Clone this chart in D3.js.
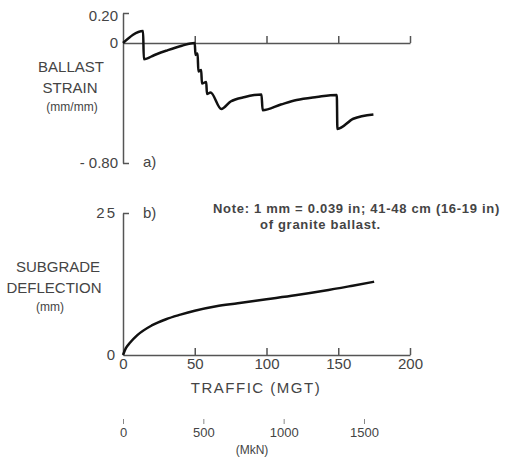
<!DOCTYPE html>
<html>
<head>
<meta charset="utf-8">
<script src="https://cdn.jsdelivr.net/npm/d3@7"></script>
<style>
  body { margin: 0; background: #fff; }
  svg text { font-family: "Liberation Sans", Arial, sans-serif; fill: #444; }
</style>
</head>
<body>
<script>
// a) ballast strain vs traffic (MGT)
const strainX = [0, 14, 14.5, 22, 30, 41, 50, 50.5, 52, 52.5, 54.5, 55, 58, 58.5, 61, 68.5, 75, 85, 96.5, 97.3, 110, 121, 135, 149, 149.4, 160.5, 174.5];
const strainY = [0, 0.08, -0.108, -0.08, -0.052, -0.018, 0, -0.08, -0.07, -0.19, -0.18, -0.27, -0.26, -0.34, -0.33, -0.44, -0.39, -0.36, -0.344, -0.448, -0.41, -0.38, -0.36, -0.346, -0.573, -0.505, -0.476];

// b) subgrade deflection vs traffic (MGT)
const deflX = [0, 2, 5, 10, 20, 30, 40, 50, 65, 80, 100, 120, 140, 160, 175];
const deflY = [0, 1.2, 2.2, 3.5, 5.2, 6.3, 7.1, 7.8, 8.6, 9.1, 9.8, 10.5, 11.3, 12.2, 12.9];

const strainTicks = [0.2, 0, -0.8];
const strainTickLabels = ["0.20", "0", "- 0.80"];
const mgtTicks = [0, 50, 100, 150, 200];
const deflTicks = [25, 0];
const mknTicks = [0, 500, 1000, 1500];

const svg = d3.select("body").append("svg")
  .attr("width", 508)
  .attr("height", 459);

// Scales
const x = d3.scaleLinear().domain([0, 200]).range([123, 410]);
const yTop = d3.scaleLinear().domain([-0.8, 0.2]).range([163, 13]);
const yBot = d3.scaleLinear().domain([0, 25]).range([355, 213]);
const xMkN = d3.scaleLinear().domain([0, 1500]).range([123, 364]);

function styleAxis(g, size) {
  g.selectAll("path, line").attr("stroke", "#555").attr("stroke-width", 1.5);
  g.selectAll("text").style("font-size", size + "px").attr("fill", "#555");
}

// ---- top panel ----
svg.append("g")
  .attr("transform", `translate(0, ${yTop(0)})`)
  .call(d3.axisBottom(x).tickValues([50, 100, 150, 200]).tickSizeInner(-7).tickSizeOuter(0).tickFormat(""))
  .call(g => styleAxis(g, 15));

svg.append("g")
  .attr("transform", "translate(123, 0)")
  .call(d3.axisLeft(yTop).tickValues(strainTicks).tickSizeInner(-6).tickSizeOuter(0).tickPadding(5)
    .tickFormat((d, i) => strainTickLabels[i]))
  .call(g => styleAxis(g, 15))
  .call(g => g.selectAll(".tick").filter(d => d === 0.2).select("text").attr("dy", "0.5em"))
  .call(g => g.selectAll(".tick").filter(d => d === 0).select("line").remove());

const strainLine = d3.line()
  .x((d, i) => x(strainX[i]))
  .y(d => yTop(d))
  .curve(d3.curveMonotoneX);

svg.append("path")
  .datum(strainY)
  .attr("d", strainLine)
  .attr("fill", "none")
  .attr("stroke", "#111")
  .attr("stroke-width", 2.5)
  .attr("stroke-linejoin", "round");

const topLabel = svg.append("g").attr("text-anchor", "middle");
topLabel.append("text").attr("x", 71).attr("y", 72).style("font-size", "15px").text("BALLAST");
topLabel.append("text").attr("x", 70).attr("y", 93).style("font-size", "15px").text("STRAIN");
topLabel.append("text").attr("x", 72).attr("y", 111).style("font-size", "12px").text("(mm/mm)");
svg.append("text").attr("x", 143).attr("y", 167).style("font-size", "15px").text("a)");

// ---- bottom panel ----
svg.append("g")
  .attr("transform", `translate(0, ${yBot(0)})`)
  .call(d3.axisBottom(x).tickValues(mgtTicks).tickSizeInner(-7).tickSizeOuter(0).tickPadding(3))
  .call(g => styleAxis(g, 15))
  .call(g => g.selectAll(".tick").filter(d => d === 0).select("line").remove());

svg.append("g")
  .attr("transform", "translate(123, 0)")
  .call(d3.axisLeft(yBot).tickValues(deflTicks).tickSizeInner(-6).tickSizeOuter(0).tickPadding(6))
  .call(g => styleAxis(g, 15))
  .call(g => g.selectAll("text").attr("letter-spacing", "2px"))
  .call(g => g.selectAll(".tick").filter(d => d === 0).select("line").remove());

const deflLine = d3.line()
  .x((d, i) => x(deflX[i]))
  .y(d => yBot(d))
  .curve(d3.curveMonotoneX);

svg.append("path")
  .datum(deflY)
  .attr("d", deflLine)
  .attr("fill", "none")
  .attr("stroke", "#111")
  .attr("stroke-width", 2.5);

const botLabel = svg.append("g").attr("text-anchor", "middle");
botLabel.append("text").attr("x", 58).attr("y", 272).style("font-size", "15px").text("SUBGRADE");
botLabel.append("text").attr("x", 54).attr("y", 293).style("font-size", "15px").text("DEFLECTION");
botLabel.append("text").attr("x", 50).attr("y", 311).style("font-size", "12px").text("(mm)");
svg.append("text").attr("x", 143).attr("y", 218).style("font-size", "15px").text("b)");

svg.append("text").attr("x", 256).attr("y", 393).attr("text-anchor", "middle")
  .style("font-size", "15px").attr("letter-spacing", "1.5px").text("TRAFFIC (MGT)");

// note
const note = svg.append("g").style("font-weight", "bold").style("font-size", "13px").attr("letter-spacing", "0.7px");
note.append("text").attr("x", 213).attr("y", 213).attr("fill", "#222").text("Note:  1 mm = 0.039 in; 41-48 cm (16-19 in)");
note.append("text").attr("x", 260).attr("y", 229).attr("fill", "#222").text("of granite ballast.");

// ---- MkN scale ----
svg.append("g")
  .attr("transform", "translate(0, 419)")
  .call(d3.axisBottom(xMkN).tickValues(mknTicks).tickSize(5).tickPadding(4).tickFormat(d3.format("d")))
  .call(g => g.select(".domain").remove())
  .call(g => g.selectAll("line").attr("stroke", "#888"))
  .call(g => g.selectAll("text").style("font-size", "13px").attr("fill", "#666"));

svg.append("text").attr("x", 252).attr("y", 454).attr("text-anchor", "middle")
  .style("font-size", "12px").attr("fill", "#555").text("(MkN)");
</script>
</body>
</html>
